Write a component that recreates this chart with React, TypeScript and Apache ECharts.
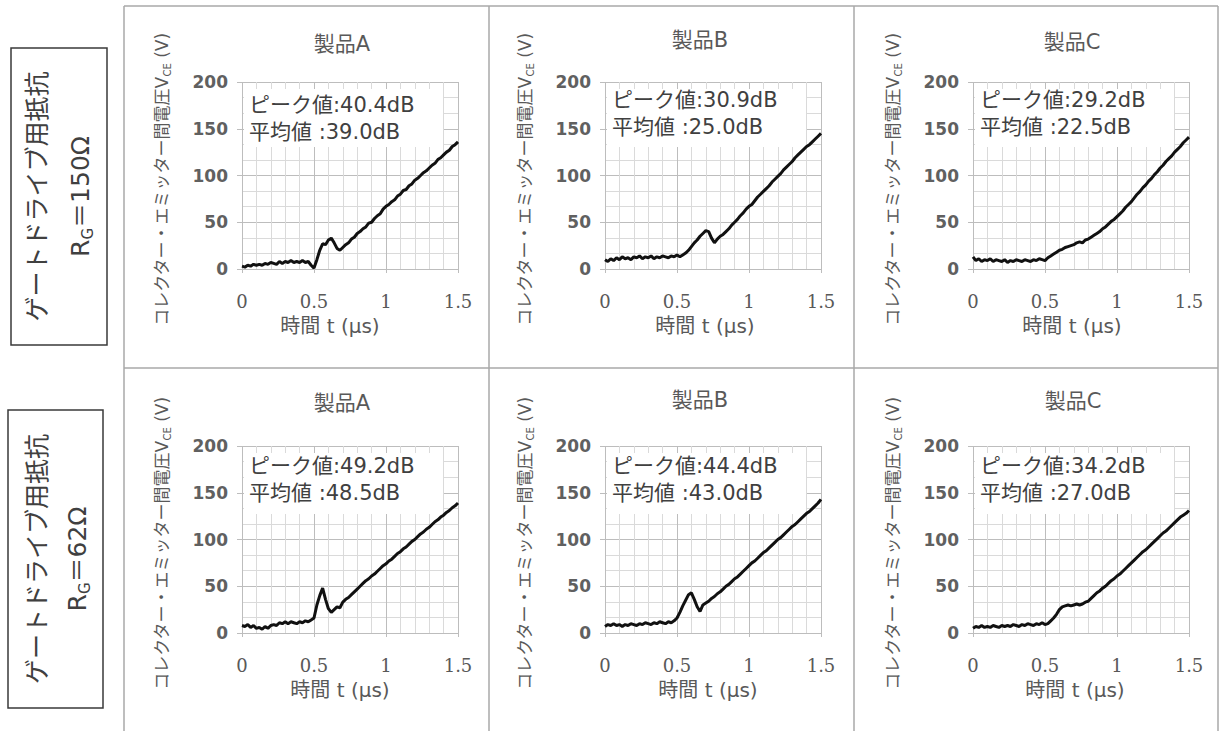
import React, { useEffect, useRef } from "react";
import * as echarts from "echarts";

// Sample times of the V_CE traces (µs)
const TIME_US = [
  0, 0.02, 0.04, 0.06, 0.08, 0.1, 0.12, 0.14, 0.16, 0.18,
  0.2, 0.22, 0.24, 0.26, 0.28, 0.3, 0.32, 0.34, 0.36, 0.38,
  0.4, 0.42, 0.44, 0.46, 0.48, 0.5, 0.52, 0.54, 0.56, 0.58,
  0.6, 0.62, 0.64, 0.66, 0.68, 0.7, 0.72, 0.74, 0.76, 0.78,
  0.8, 0.82, 0.84, 0.86, 0.88, 0.9, 0.92, 0.94, 0.96, 0.98,
  1, 1.02, 1.04, 1.06, 1.08, 1.1, 1.12, 1.14, 1.16, 1.18,
  1.2, 1.22, 1.24, 1.26, 1.28, 1.3, 1.32, 1.34, 1.36, 1.38,
  1.4, 1.42, 1.44, 1.46, 1.48, 1.5,
];

// Collector-emitter voltage (V), gate resistor 150 Ω
const VCE_150_A = [
  3, 2, 4, 3, 5, 4, 5, 4, 6, 5,
  7, 6, 5, 8, 6, 8, 7, 9, 7, 8,
  7, 9, 7, 8, 4, 1, 10, 20, 27, 26,
  31, 33, 28, 22, 20, 23, 26, 28, 32, 34,
  38, 40, 43, 45, 49, 50, 54, 57, 59, 64,
  67, 69, 72, 74, 78, 80, 84, 85, 89, 91,
  95, 97, 100, 103, 105, 108, 111, 113, 117, 119,
  122, 125, 127, 131, 133, 136,
];
const VCE_150_B = [
  10, 8, 11, 9, 12, 10, 13, 11, 12, 10,
  13, 12, 14, 11, 13, 12, 14, 11, 13, 12,
  14, 13, 12, 14, 13, 15, 13, 15, 17, 20,
  24, 28, 31, 35, 38, 41, 40, 33, 28, 32,
  35, 37, 40, 43, 47, 50, 53, 57, 60, 64,
  67, 69, 73, 77, 80, 83, 86, 89, 93, 96,
  99, 102, 106, 109, 112, 115, 119, 122, 125, 128,
  131, 133, 136, 139, 142, 145,
];
const VCE_150_C = [
  13, 9, 11, 8, 10, 9, 11, 8, 10, 9,
  8, 10, 7, 9, 8, 10, 9, 8, 10, 9,
  8, 10, 9, 11, 10, 9, 12, 14, 16, 18,
  20, 21, 23, 24, 25, 26, 28, 29, 28, 31,
  32, 34, 36, 38, 40, 43, 45, 48, 51, 53,
  56, 59, 62, 66, 69, 72, 76, 80, 83, 87,
  90, 94, 97, 101, 104, 108, 111, 115, 118, 121,
  125, 128, 131, 135, 138, 141,
];

// Collector-emitter voltage (V), gate resistor 62 Ω
const VCE_62_A = [
  8, 7, 9, 6, 8, 5, 6, 4, 7, 5,
  8, 9, 8, 11, 10, 12, 10, 12, 11, 10,
  12, 11, 13, 12, 14, 16, 30, 40, 48, 36,
  26, 22, 25, 28, 27, 33, 36, 38, 41, 44,
  47, 50, 53, 56, 58, 61, 63, 66, 69, 72,
  74, 77, 79, 82, 85, 87, 90, 92, 95, 98,
  100, 103, 106, 108, 111, 113, 116, 119, 121, 124,
  126, 129, 131, 134, 136, 139,
];
const VCE_62_B = [
  7, 9, 8, 10, 8, 9, 7, 9, 8, 10,
  9, 8, 10, 9, 11, 10, 9, 11, 10, 12,
  11, 10, 12, 11, 13, 16, 22, 29, 35, 41,
  43, 36, 28, 23, 30, 32, 34, 37, 39, 42,
  44, 47, 50, 52, 55, 58, 60, 63, 66, 69,
  72, 75, 77, 80, 83, 86, 88, 91, 94, 97,
  100, 102, 105, 108, 111, 114, 116, 119, 122, 125,
  128, 130, 133, 136, 139, 143,
];
const VCE_62_C = [
  5, 7, 6, 8, 6, 7, 6, 8, 7, 6,
  8, 7, 8, 7, 9, 8, 7, 9, 8, 10,
  9, 8, 10, 9, 11, 9, 10, 13, 16, 20,
  25, 28, 29, 30, 29, 30, 31, 30, 31, 33,
  34, 37, 40, 43, 45, 48, 50, 53, 56, 58,
  61, 63, 66, 69, 72, 75, 78, 81, 84, 87,
  89, 92, 95, 98, 101, 104, 107, 109, 112, 115,
  118, 121, 124, 126, 128, 131,
];

const PRODUCTS = ["製品A", "製品B", "製品C"];
const GATE_RESISTANCE = ["150Ω", "62Ω"];
const PEAK_DB = [40.4, 30.9, 29.2, 49.2, 44.4, 34.2];
const AVERAGE_DB = [39.0, 25.0, 22.5, 48.5, 43.0, 27.0];
const TRACES = [VCE_150_A, VCE_150_B, VCE_150_C, VCE_62_A, VCE_62_B, VCE_62_C];

const X_MIN = 0;
const X_MAX = 1.5;
const X_STEP = 0.5;
const Y_MIN = 0;
const Y_MAX = 200;
const Y_STEP = 50;

// Layout (pixels)
const PLOT_LEFT = [242, 605, 973];
const PLOT_TOP = [82, 446];
const PLOT_W = 216;
const PLOT_H = 187;
const TITLE_POS = [
  [342, 44], [700, 40], [1072, 42],
  [342, 403], [700, 400], [1073, 401],
];
const XNAME_DX = [88, 100, 99, 98, 103, 102];

const FONT = "DejaVu Sans, Noto Sans CJK JP, sans-serif";
const TEXT_GREY = "#595959";
const TEXT_DARK = "#404040";
const MAJOR = "#bdbdbd";
const MINOR = "#dadada";
const FRAME = "#a8a8a8";

function buildOption() {
  const grid: any[] = [];
  const xAxis: any[] = [];
  const yAxis: any[] = [];
  const series: any[] = [];
  const graphic: any[] = [];

  // panel frame lines
  const frameLine = (x1: number, y1: number, x2: number, y2: number) => ({
    type: "line",
    silent: true,
    z: 0,
    shape: { x1, y1, x2, y2 },
    style: { stroke: FRAME, lineWidth: 1.5 },
  });
  [124, 489, 854, 1218].forEach((x) => graphic.push(frameLine(x, 6, x, 731)));
  [6, 368].forEach((y) => graphic.push(frameLine(124, y, 1218, y)));

  // row labels
  const rowBoxes = [
    { x: 11, y: 48, w: 96, h: 297, c1: 37, c2: 80 },
    { x: 8, y: 410, w: 95, h: 298, c1: 37, c2: 77 },
  ];
  rowBoxes.forEach((b, r) => {
    const cy = b.y + b.h / 2;
    graphic.push({
      type: "rect",
      silent: true,
      shape: { x: b.x, y: b.y, width: b.w, height: b.h },
      style: { fill: "#fff", stroke: "#3a3a3a", lineWidth: 1.5 },
    });
    graphic.push({
      type: "text",
      x: b.c1,
      y: cy,
      rotation: Math.PI / 2,
      style: {
        text: "ゲートドライブ用抵抗",
        fill: TEXT_DARK,
        fontSize: 25,
        fontFamily: FONT,
        align: "center",
        verticalAlign: "middle",
      },
    });
    graphic.push({
      type: "text",
      x: b.c2,
      y: cy,
      rotation: Math.PI / 2,
      style: {
        text: "{a|R}{s|G}{a|＝" + GATE_RESISTANCE[r] + "}",
        align: "center",
        verticalAlign: "middle",
        rich: {
          a: { fontSize: 25, fontFamily: FONT, fill: TEXT_DARK, lineHeight: 30 },
          s: { fontSize: 15, fontFamily: FONT, fill: TEXT_DARK, lineHeight: 15, verticalAlign: "bottom" },
        },
      },
    });
  });

  for (let r = 0; r < 2; r++) {
    for (let c = 0; c < 3; c++) {
      const i = r * 3 + c;
      const left = PLOT_LEFT[c];
      const top = PLOT_TOP[r];

      grid.push({ left, top, width: PLOT_W, height: PLOT_H });

      xAxis.push({
        gridIndex: i,
        type: "value",
        min: X_MIN,
        max: X_MAX,
        interval: X_STEP,
        axisLine: { show: false },
        axisTick: { show: true, length: 4, lineStyle: { color: MAJOR } },
        axisLabel: {
          margin: 23,
          fontFamily: "DejaVu Serif, Liberation Serif, serif",
          fontSize: 18,
          color: TEXT_GREY,
        },
        splitLine: { show: true, lineStyle: { color: MAJOR, width: 1 } },
        minorTick: { show: false, splitNumber: 5 },
        minorSplitLine: { show: true, lineStyle: { color: MINOR, width: 1 } },
      });

      yAxis.push({
        gridIndex: i,
        type: "value",
        min: Y_MIN,
        max: Y_MAX,
        interval: Y_STEP,
        axisLine: { show: false },
        axisTick: { show: true, length: 5, lineStyle: { color: MAJOR } },
        axisLabel: {
          margin: 14,
          fontFamily: "DejaVu Sans, sans-serif",
          fontWeight: "bold",
          fontSize: 17,
          color: "#606060",
        },
        splitLine: { show: true, lineStyle: { color: MAJOR, width: 1 } },
        minorTick: { show: false, splitNumber: 3 },
        minorSplitLine: { show: true, lineStyle: { color: MINOR, width: 1 } },
      });

      series.push({
        type: "line",
        xAxisIndex: i,
        yAxisIndex: i,
        data: TIME_US.map((t, k) => [t, TRACES[i][k]]),
        showSymbol: false,
        symbol: "none",
        lineStyle: { color: "#111111", width: 3 },
        z: 3,
      });

      // panel title
      graphic.push({
        type: "text",
        x: TITLE_POS[i][0],
        y: TITLE_POS[i][1],
        style: {
          text: PRODUCTS[c],
          fill: TEXT_GREY,
          fontSize: 21,
          fontFamily: FONT,
          align: "center",
          verticalAlign: "middle",
        },
      });

      // measured noise levels
      const boxH = r === 0 ? 58 : 61;
      graphic.push({
        type: "rect",
        silent: true,
        z: 1,
        shape: { x: left + 2, y: top + 7, width: 199, height: boxH },
        style: { fill: "#ffffff" },
      });
      const ty = r === 0 ? (c === 0 ? 23 : 18) : 20;
      graphic.push({
        type: "text",
        z: 4,
        x: left + 7,
        y: top + ty,
        style: {
          text: "ピーク値:" + PEAK_DB[i].toFixed(1) + "dB",
          fill: TEXT_DARK,
          fontSize: 21,
          fontFamily: FONT,
          align: "left",
          verticalAlign: "middle",
        },
      });
      graphic.push({
        type: "text",
        z: 4,
        x: left + 7,
        y: top + ty + 27,
        style: {
          text: "平均値 :" + AVERAGE_DB[i].toFixed(1) + "dB",
          fill: TEXT_DARK,
          fontSize: 21,
          fontFamily: FONT,
          align: "left",
          verticalAlign: "middle",
        },
      });

      // y-axis name
      graphic.push({
        type: "text",
        x: left - 80,
        y: top + PLOT_H / 2 + 4,
        rotation: Math.PI / 2,
        style: {
          text: "{a|コレクター・エミッター間電圧V}{s|CE}{a| (V)}",
          align: "center",
          verticalAlign: "middle",
          rich: {
            a: { fontSize: 17, fontFamily: FONT, fill: TEXT_GREY, lineHeight: 20 },
            s: { fontSize: 10, fontFamily: FONT, fill: TEXT_GREY, lineHeight: 10, verticalAlign: "bottom" },
          },
        },
      });

      // x-axis name
      graphic.push({
        type: "text",
        x: left + XNAME_DX[i],
        y: top + 244,
        style: {
          text: "時間 t (μs)",
          fill: TEXT_GREY,
          fontSize: 20,
          fontFamily: FONT,
          align: "center",
          verticalAlign: "middle",
        },
      });
    }
  }

  return {
    animation: false,
    backgroundColor: "#ffffff",
    grid,
    xAxis,
    yAxis,
    series,
    graphic,
  };
}

export default function App() {
  const ref = useRef<HTMLDivElement>(null);

  useEffect(() => {
    if (!ref.current) return;
    const chart = echarts.init(ref.current, undefined, { renderer: "svg" });
    chart.setOption(buildOption() as any);
    return () => chart.dispose();
  }, []);

  return (
    <div
      ref={ref}
      style={{
        position: "fixed",
        left: 0,
        top: 0,
        width: 1222,
        height: 731,
        background: "#fff",
      }}
    />
  );
}
